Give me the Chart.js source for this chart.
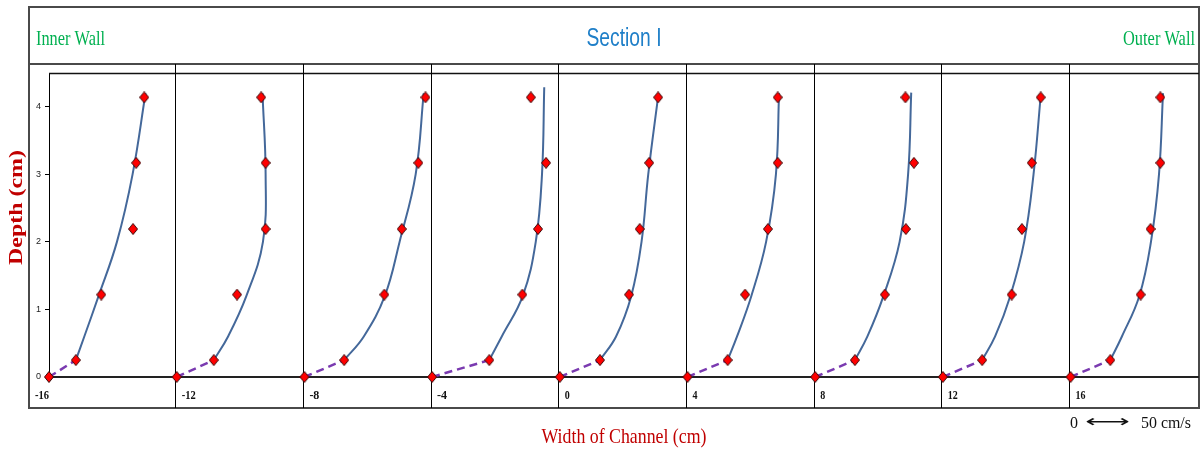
<!DOCTYPE html>
<html>
<head>
<meta charset="utf-8">
<title>Section I velocity profiles</title>
<script src="https://cdn.jsdelivr.net/npm/chart.js@4.4.1/dist/chart.umd.min.js"></script>
<style>
  html, body { margin: 0; padding: 0; background: #ffffff; }
  canvas { display: block; }
</style>
</head>
<body>
<canvas id="profiles" width="1202" height="453"></canvas>
<script>
// Measuring stations across the channel width (cm)
const STATIONS = [-16, -12, -8, -4, 0, 4, 8, 12, 16];
const STATION_LABELS = ['-16', '-12', '-8', '-4', '0', '4', '8', '12', '16'];
const Y_TICKS = [0, 1, 2, 3, 4];

// Depths of the measured points (cm above the bed)
const POINT_DEPTHS = [0, 0.25, 1.22, 2.19, 3.17, 4.14];

// Measured velocities (cm/s) at each station, bed to surface
const measuredM16 = [0, 30, 58.5, 94, 97.5, 106.5];
const measuredM12 = [0, 41.5, 67.5, 99.5, 99.5, 94.5];
const measuredM8  = [0, 44.5, 89.5, 109, 127.5, 135.5];
const measuredM4  = [0, 64, 101, 118.5, 127.5, 110.5];
const measured0   = [0, 45, 77.5, 89.5, 100, 110];
const measuredP4  = [0, 45, 64.5, 90, 101, 101];
const measuredP8  = [0, 44.5, 78, 101.5, 110.5, 101];
const measuredP12 = [0, 44, 77, 88.5, 99.5, 109.5];
const measuredP16 = [0, 44.5, 78.5, 89.5, 100.5, 100.5];

// Fitted profile (cm/s) at these depths, plus a top depth per station
const FIT_DEPTHS = [0.25, 0.6, 1.2, 2.0, 3.0];
const FIT_TOP_DEPTHS = [4.2, 4.2, 4.2, 4.29, 4.2, 4.2, 4.21, 4.16, 4.2];
const fitM16 = [30, 39.5, 55.5, 76, 93.5, 108];
const fitM12 = [41.5, 57.5, 78, 96.5, 99.5, 96];
const fitM8  = [44.5, 66.5, 90, 106.5, 124.5, 133.5];
const fitM4  = [64, 78, 101.5, 116, 123, 125.5];
const fit0   = [45, 63, 80, 91.5, 99, 110.5];
const fitP4  = [45, 55.5, 71.5, 88, 99, 102.5];
const fitP8  = [44.5, 58.5, 76.5, 94.5, 104, 107.5];
const fitP12 = [44, 58.5, 75.5, 91, 101.5, 109.5];
const fitP16 = [44.5, 57.5, 77, 90, 99, 103.5];

// Velocity scale: 50 cm/s spans this much of the width axis
const VELOCITY_REF = 50;
const VELOCITY_REF_WIDTH = 1.4;

const MEASURED = [measuredM16, measuredM12, measuredM8, measuredM4, measured0,
                  measuredP4, measuredP8, measuredP12, measuredP16];
const FITTED = [fitM16, fitM12, fitM8, fitM4, fit0, fitP4, fitP8, fitP12, fitP16];

function widthPos(station, velocity) {
  return station + velocity * VELOCITY_REF_WIDTH / VELOCITY_REF;
}

// Red diamond marker with a dark outline
function makeDiamond() {
  const c = document.createElement('canvas');
  c.width = 10; c.height = 12;
  const g = c.getContext('2d');
  g.beginPath();
  g.moveTo(5, 0.5); g.lineTo(9.5, 6); g.lineTo(5, 11.5); g.lineTo(0.5, 6);
  g.closePath();
  g.fillStyle = '#ff0000';
  g.fill();
  g.lineWidth = 1;
  g.strokeStyle = '#3a0a0a';
  g.stroke();
  return c;
}
const diamond = makeDiamond();

const datasets = [];
STATIONS.forEach((st, i) => {
  const meas = MEASURED[i];
  const fit = FITTED[i];
  const fitDepths = FIT_DEPTHS.concat([FIT_TOP_DEPTHS[i]]);
  datasets.push({
    label: 'measured ' + st,
    data: POINT_DEPTHS.map((d, k) => ({ x: widthPos(st, meas[k]), y: d })),
    showLine: false,
    pointStyle: diamond,
    pointRadius: 6,
    order: 0,
    clip: false
  });
  datasets.push({
    label: 'near bed ' + st,
    data: [0, 1].map(k => ({ x: widthPos(st, meas[k]), y: POINT_DEPTHS[k] })),
    borderColor: '#7a3ab0',
    borderWidth: 2.5,
    borderDash: [8, 5],
    pointRadius: 0,
    tension: 0,
    order: 1,
    clip: false
  });
  datasets.push({
    label: 'fit ' + st,
    data: fitDepths.map((d, k) => ({ x: widthPos(st, fit[k]), y: d })),
    borderColor: '#44689a',
    borderWidth: 2,
    pointRadius: 0,
    tension: 0.4,
    order: 1,
    clip: false
  });
});

function drawFitted(ctx, text, x, y, font, color, align, width) {
  ctx.save();
  ctx.font = font;
  ctx.fillStyle = color;
  ctx.textBaseline = 'alphabetic';
  ctx.textAlign = align;
  const w = ctx.measureText(text).width;
  const s = width ? width / w : 1;
  ctx.translate(x, y);
  ctx.scale(s, 1);
  ctx.fillText(text, 0, 0);
  ctx.restore();
}

const FRAME = { left: 29, top: 7, right: 1199, bottom: 408, header: 64 };

const framePlugin = {
  id: 'frame',
  beforeDraw(chart) {
    const ctx = chart.ctx;
    ctx.save();
    ctx.fillStyle = '#ffffff';
    ctx.fillRect(0, 0, chart.width, chart.height);
    ctx.restore();
  },
  beforeDatasetsDraw(chart) {
    const { ctx, chartArea } = chart;
    const xs = chart.scales.x;
    ctx.save();
    // outer frame and header divider
    ctx.strokeStyle = '#4a4a4a';
    ctx.lineWidth = 2;
    ctx.strokeRect(FRAME.left, FRAME.top, FRAME.right - FRAME.left, FRAME.bottom - FRAME.top);
    ctx.beginPath();
    ctx.moveTo(FRAME.left, FRAME.header);
    ctx.lineTo(FRAME.right, FRAME.header);
    ctx.stroke();
    // plot top edge
    ctx.strokeStyle = '#111111';
    ctx.lineWidth = 1.5;
    ctx.beginPath();
    ctx.moveTo(chartArea.left, chartArea.top + 0.5);
    ctx.lineTo(FRAME.right, chartArea.top + 0.5);
    ctx.stroke();
    // bed line
    ctx.strokeStyle = '#222222';
    ctx.lineWidth = 2;
    ctx.beginPath();
    ctx.moveTo(chartArea.left, chartArea.bottom);
    ctx.lineTo(FRAME.right, chartArea.bottom);
    ctx.stroke();
    // station separators
    ctx.strokeStyle = '#000000';
    ctx.lineWidth = 1;
    STATIONS.slice(1).forEach(st => {
      const px = Math.floor(xs.getPixelForValue(st)) - 0.5;
      ctx.beginPath();
      ctx.moveTo(px, FRAME.header);
      ctx.lineTo(px, FRAME.bottom);
      ctx.stroke();
    });
    ctx.restore();
  },
  afterDraw(chart) {
    const { ctx } = chart;
    const xs = chart.scales.x;
    // header
    drawFitted(ctx, 'Inner Wall', 36, 45, '22px "Liberation Serif"', '#00b050', 'left', 69);
    drawFitted(ctx, 'Section I', 624, 46, '26px "Liberation Sans"', '#1f7fc8', 'center', 75);
    drawFitted(ctx, 'Outer Wall', 1195, 45, '22px "Liberation Serif"', '#00b050', 'right', 72);
    // station labels
    STATION_LABELS.forEach((lab, i) => {
      const px = xs.getPixelForValue(STATIONS[i]);
      if (i === 0) {
        drawFitted(ctx, lab, px, 399, 'bold 13px "Liberation Serif"', '#111111', 'right', 14);
      } else {
        const w = lab.length === 3 ? 14 : (lab.length === 2 ? 10 : 5);
        drawFitted(ctx, lab, px + 5, 399, 'bold 13px "Liberation Serif"', '#111111', 'left', w);
      }
    });
    // axis titles
    ctx.save();
    ctx.translate(17, 207.5);
    ctx.rotate(-Math.PI / 2);
    ctx.font = 'bold 19px "Liberation Serif"';
    const dw = ctx.measureText('Depth (cm)').width;
    ctx.scale(115 / dw, 1);
    ctx.fillStyle = '#c00000';
    ctx.textAlign = 'center';
    ctx.textBaseline = 'middle';
    ctx.fillText('Depth (cm)', 0, 0);
    ctx.restore();
    drawFitted(ctx, 'Width of Channel (cm)', 624, 443, '21px "Liberation Serif"', '#c00000', 'center', 165);
    // velocity scale
    drawFitted(ctx, '0', 1070, 428, '17px "Liberation Serif"', '#111111', 'left', 8);
    const arrowLen = (xs.getPixelForValue(VELOCITY_REF_WIDTH) - xs.getPixelForValue(0));
    drawFitted(ctx, '\u27F7', 1085 + arrowLen / 2, 427, '17px "DejaVu Sans"', '#111111', 'center', arrowLen);
    drawFitted(ctx, '50 cm/s', 1141, 428, '17px "Liberation Serif"', '#111111', 'left', 50);
  }
};

new Chart(document.getElementById('profiles'), {
  type: 'line',
  data: { datasets },
  options: {
    indexAxis: 'y',
    responsive: false,
    animation: false,
    devicePixelRatio: 1,
    layout: { padding: { left: 0, right: 3, top: 73, bottom: 76 } },
    plugins: { legend: { display: false }, tooltip: { enabled: false }, title: { display: false } },
    scales: {
      x: {
        type: 'linear',
        min: -16,
        max: 19.9,
        display: false
      },
      y: {
        type: 'linear',
        min: 0,
        max: 4.5,
        afterFit(scale) { scale.width = 49; },
        afterBuildTicks(scale) { scale.ticks = Y_TICKS.map(v => ({ value: v })); },
        ticks: {
          font: { family: 'Liberation Sans', size: 9 },
          color: '#222222',
          padding: 4
        },
        grid: { drawOnChartArea: false, drawTicks: true, tickLength: 4, color: '#000000' },
        border: { display: true, color: '#000000', width: 1 }
      }
    }
  },
  plugins: [framePlugin]
});
</script>
</body>
</html>
